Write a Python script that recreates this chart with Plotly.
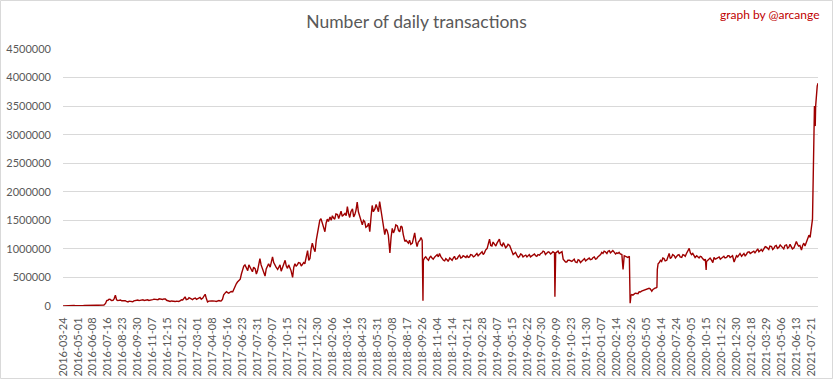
import pandas as pd
import plotly.graph_objects as go

# ---------------- data ----------------
tick_labels = [
    "2016-03-24", "2016-05-01", "2016-06-08", "2016-07-16", "2016-08-23", "2016-09-30",
    "2016-11-07", "2016-12-15", "2017-01-22", "2017-03-01", "2017-04-08", "2017-05-16",
    "2017-06-23", "2017-07-31", "2017-09-07", "2017-10-15", "2017-11-22", "2017-12-30",
    "2018-02-06", "2018-03-16", "2018-04-23", "2018-05-31", "2018-07-08", "2018-08-17",
    "2018-09-26", "2018-11-04", "2018-12-14", "2019-01-21", "2019-02-28", "2019-04-07",
    "2019-05-15", "2019-06-22", "2019-07-30", "2019-09-09", "2019-10-23", "2019-11-30",
    "2020-01-07", "2020-02-14", "2020-03-26", "2020-05-05", "2020-06-14", "2020-07-24",
    "2020-09-05", "2020-10-15", "2020-11-22", "2020-12-30", "2021-02-18", "2021-03-29",
    "2021-05-06", "2021-06-13", "2021-07-21",
]
days_per_label = 38          # category axis: one label every 38 data days
last_day = "2021-08-07"

# readings taken at these day offsets after each tick label (thousands of tx)
sample_offsets = [0, 6, 13, 19, 25, 32]
tx_thousands = [
    3, 5, 12, 13, 12, 5,
    3, 3, 4, 10, 12, 13,
    13, 14, 14, 15, 16, 45,
    100, 115, 100, 190, 95, 105,
    95, 92, 72, 80, 75, 100,
    105, 98, 110, 102, 108, 100,
    112, 118, 110, 120, 115, 122,
    90, 80, 85, 78, 82, 95,
    105, 160, 120, 135, 110, 140,
    125, 150, 140, 205, 70, 95,
    88, 85, 92, 88, 120, 230,
    235, 240, 250, 370, 420, 470,
    640, 720, 620, 690, 600, 650,
    620, 830, 650, 525, 690, 680,
    860, 700, 640, 720, 660, 800,
    660, 680, 500, 740, 720, 750,
    730, 740, 970, 830, 1100, 950,
    1270, 1500, 1450, 1300, 1520, 1560,
    1580, 1520, 1600, 1620, 1570, 1620,
    1740, 1550, 1700, 1600, 1820, 1540,
    1420, 1480, 1400, 1300, 1760, 1700,
    1700, 1830, 1530, 1250, 1320, 930,
    1360, 1330, 1400, 1300, 1380, 1130,
    1120, 1150, 1100, 1280, 1040, 1150,
    1150, 840, 820, 850, 840, 860,
    900, 920, 820, 790, 810, 840,
    800, 870, 830, 890, 850, 870,
    880, 860, 890, 870, 920, 900,
    950, 930, 1010, 1170, 1050, 1080,
    1100, 1170, 1050, 1070, 1040, 1060,
    950, 920, 880, 870, 900, 880,
    860, 900, 880, 910, 870, 890,
    930, 950, 920, 940, 930, 930,
    940, 920, 950, 790, 770, 800,
    780, 820, 760, 800, 780, 830,
    810, 840, 820, 860, 830, 880,
    940, 960, 920, 970, 950, 940,
    930, 940, 900, 880, 860, 870,
    200, 210, 220, 250, 260, 280,
    300, 310, 260, 310, 320, 760,
    780, 830, 800, 920, 850, 880,
    870, 900, 850, 890, 920, 1010,
    900, 870, 880, 840, 860, 800,
    780, 820, 800, 850, 830, 860,
    840, 870, 850, 880, 860, 770,
    880, 900, 870, 920, 900, 950,
    930, 960, 980, 950, 990, 1000,
    1030, 990, 1040, 1010, 1060, 1030,
    1050, 1000, 1070, 1030, 1050, 1020,
    1130, 1050, 980, 1100, 1120, 1240,
]

# in-between readings (day-to-day jitter), thousands of tx
mid_offsets = [3, 9, 16, 22, 28, 35]
tx_mid_thousands = [
    4, 10, 14, 11, 8, 3,
    2, 4, 8, 12, 14, 13,
    12, 15, 13, 16, 18, 95,
    120, 95, 130, 110, 100, 92,
    100, 80, 85, 70, 90, 95,
    95, 108, 96, 112, 98, 108,
    120, 105, 125, 108, 125, 100,
    85, 88, 75, 85, 80, 110,
    130, 110, 145, 115, 130, 115,
    140, 120, 175, 130, 85, 90,
    92, 80, 95, 90, 195, 250,
    225, 255, 300, 390, 450, 560,
    700, 660, 720, 640, 680, 560,
    700, 720, 600, 650, 740, 760,
    760, 680, 700, 610, 720, 700,
    720, 620, 680, 700, 760, 700,
    760, 850, 800, 1000, 1020, 1150,
    1380, 1530, 1350, 1450, 1480, 1500,
    1540, 1610, 1530, 1660, 1600, 1580,
    1620, 1650, 1560, 1680, 1650, 1480,
    1500, 1380, 1450, 1550, 1650, 1780,
    1650, 1700, 1420, 1350, 1240, 1200,
    1280, 1420, 1320, 1400, 1250, 1150,
    1100, 1080, 1180, 1130, 1120, 1200,
    800, 860, 800, 870, 820, 880,
    860, 870, 800, 830, 780, 820,
    840, 820, 870, 840, 880, 850,
    850, 900, 860, 900, 880, 930,
    900, 980, 1080, 1060, 1120, 1050,
    1130, 1080, 1110, 1020, 1080, 1000,
    900, 940, 850, 910, 860, 890,
    880, 860, 910, 880, 900, 920,
    960, 900, 950, 910, 950, 930,
    960, 930, 820, 770, 800, 790,
    800, 770, 810, 760, 810, 790,
    830, 810, 850, 820, 860, 900,
    920, 950, 960, 930, 970, 910,
    920, 910, 640, 870, 850, 110,
    190, 225, 215, 245, 270, 285,
    305, 300, 290, 315, 700, 800,
    840, 790, 860, 830, 900, 840,
    890, 860, 900, 870, 960, 930,
    920, 850, 850, 870, 830, 820,
    800, 840, 760, 820, 850, 820,
    860, 840, 880, 850, 880, 850,
    860, 920, 890, 880, 940, 920,
    950, 930, 1000, 970, 960, 1040,
    1000, 1050, 990, 1050, 1010, 1070,
    1030, 1060, 1010, 1080, 1000, 1080,
    1080, 1060, 1060, 1050, 1180, 1200,
]

# sharp dips and the final surge (thousands of tx)
extra_dates = [
    "2018-09-28", "2019-09-01", "2020-03-19", "2020-03-21",
    "2020-05-31", "2020-06-01", "2020-06-03", "2020-10-12",
    "2021-07-21", "2021-07-23", "2021-07-24", "2021-07-29", "2021-07-31",
    "2021-08-01", "2021-08-03", "2021-08-05", "2021-08-07",
]
extra_thousands = [
    90, 160, 50, 185,
    330, 640, 740, 630,
    1360, 1420, 1520, 3500, 3150,
    3500, 3780, 3850, 3900,
]

# ---------------- categories (data days) ----------------
categories = []
for i, lab in enumerate(tick_labels):
    start = pd.Timestamp(lab)
    if i < len(tick_labels) - 1:
        n = days_per_label
    else:
        n = (pd.Timestamp(last_day) - start).days + 1
    categories += [(start + pd.Timedelta(days=d)).strftime("%Y-%m-%d") for d in range(n)]
cat_index = {c: i for i, c in enumerate(categories)}

points = []
for k in range(len(tick_labels) - 1):
    base = pd.Timestamp(tick_labels[k])
    for offs, vals in ((sample_offsets, tx_thousands), (mid_offsets, tx_mid_thousands)):
        for j, off in enumerate(offs):
            d = (base + pd.Timedelta(days=off)).strftime("%Y-%m-%d")
            points.append((d, vals[k * len(offs) + j]))
points += list(zip(extra_dates, extra_thousands))
points.sort(key=lambda p: cat_index[p[0]])
x_vals = [p[0] for p in points]
y_vals = [p[1] * 1000 for p in points]

# ---------------- figure ----------------
GRAY = "#595959"
FONT = "Lato"

fig = go.Figure()
fig.add_trace(go.Scatter(
    x=x_vals, y=y_vals, mode="lines",
    line=dict(color="#9e0000", width=1.4),
    hoverinfo="x+y", showlegend=False,
))

fig.update_layout(
    width=833, height=379,
    margin=dict(l=63, r=15, t=49, b=73, autoexpand=False),
    paper_bgcolor="white", plot_bgcolor="white",
    font=dict(family=FONT, color=GRAY, size=11),
    title=dict(text="Number of daily transactions", x=0.5, xref="container", xanchor="center",
               y=1 - 22 / 379, yref="container", yanchor="middle",
               font=dict(family=FONT, size=17.5, color=GRAY)),
    xaxis=dict(
        type="category", categoryorder="array", categoryarray=categories,
        range=[0, len(categories) - 1], automargin=False,
        tickmode="array", tickvals=tick_labels, ticktext=tick_labels,
        tickangle=-90, showgrid=False, zeroline=False,
        showline=True, linecolor="#d9d9d9", linewidth=1,
        ticks="", ticklabelstandoff=6,
        tickfont=dict(family=FONT, size=11, color=GRAY),
    ),
    yaxis=dict(
        range=[0, 4500000], dtick=500000, tick0=0, tickformat="d", automargin=False,
        showgrid=True, gridcolor="#d9d9d9", gridwidth=1,
        zeroline=False, showline=False, ticks="", ticklabelstandoff=11,
        tickfont=dict(family=FONT, size=11, color=GRAY),
    ),
    annotations=[dict(
        text="graph by @arcange", xref="paper", yref="paper", x=1, y=1,
        xanchor="right", yanchor="middle", xshift=4, yshift=35, showarrow=False,
        font=dict(family=FONT, size=12, color="#c00000"),
    )],
    shapes=[dict(
        type="rect", xref="paper", yref="paper",
        x0=(0.5 - 63) / 755, x1=(832.5 - 63) / 755,
        y0=(306 - 378.5) / 257, y1=(306 - 0.5) / 257,
        line=dict(color="#d9d9d9", width=1), fillcolor="rgba(0,0,0,0)", layer="below",
    )],
)

fig.write_html(
    "out.html",
    config={"displayModeBar": False},
    post_script="document.body.style.margin='0';document.body.style.padding='0';",
)
